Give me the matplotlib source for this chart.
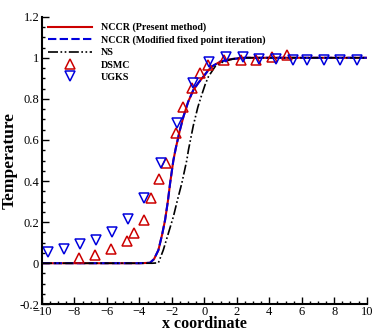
import matplotlib
matplotlib.use("Agg")
import matplotlib.pyplot as plt
from matplotlib.ticker import MultipleLocator

plt.rcParams['font.family'] = ['Liberation Serif', 'DejaVu Serif']

# NCCR (present method) curve
nccr_x = [-10, -4.0, -3.35, -3.1, -2.83, -2.6, -2.42, -2.25, -2.11, -1.91, -1.76, -1.5, -1.29, -1.0, -0.68, -0.35, -0.06, 0.2, 0.45, 0.97, 1.58, 2.5, 10]
nccr_y = [0.0, 0.0, 0.002, 0.02, 0.064, 0.14, 0.21, 0.30, 0.389, 0.50, 0.56, 0.65, 0.713, 0.785, 0.843, 0.88, 0.908, 0.935, 0.957, 0.981, 0.993, 1.0, 1.0]
# NCCR (modified fixed point iteration) - essentially identical
mfp_x = nccr_x
mfp_y = nccr_y
# NS curve
ns_x = [-10, -4.0, -3.2, -2.83, -2.53, -2.2, -1.91, -1.65, -1.39, -1.08, -0.98, -0.68, -0.4, -0.16, 0.05, 0.25, 0.66, 1.17, 1.8, 2.5, 10]
ns_y = [0.0, 0.0, 0.0, 0.002, 0.064, 0.15, 0.226, 0.31, 0.389, 0.502, 0.551, 0.67, 0.76, 0.82, 0.87, 0.908, 0.957, 0.981, 0.995, 1.0, 1.0]
# DSMC
dsmc_x = [-7.72, -6.73, -5.75, -4.78, -4.31, -3.72, -3.28, -2.77, -2.39, -1.74, -1.29, -0.78, -0.27, 0.21, 1.21, 2.24, 3.18, 4.14, 5.10]
dsmc_y = [0.027, 0.038, 0.068, 0.108, 0.149, 0.209, 0.316, 0.408, 0.486, 0.632, 0.759, 0.851, 0.925, 0.965, 0.989, 0.99, 0.99, 1.002, 1.013]
# UGKS
ugks_x = [-9.61, -8.64, -7.66, -6.67, -5.69, -4.70, -3.72, -2.67, -1.70, -0.71, 0.31, 1.34, 2.37, 3.39, 4.42, 5.45, 6.35, 7.34, 8.37, 9.39]
ugks_y = [0.056, 0.07, 0.092, 0.113, 0.153, 0.214, 0.319, 0.486, 0.681, 0.879, 0.981, 1.005, 1.005, 0.995, 0.995, 0.99, 0.99, 0.99, 0.99, 0.99]

xticks = [-10, -8, -6, -4, -2, 0, 2, 4, 6, 8, 10]
yticks = [-0.2, 0, 0.2, 0.4, 0.6, 0.8, 1, 1.2]
ytick_labels = ['-0.2', '0', '0.2', '0.4', '0.6', '0.8', '1', '1.2']

red = '#cc0000'
blue = '#0000dd'

fig = plt.figure(figsize=(3.74, 3.32), dpi=100)
ax = fig.add_axes([0.1123, 0.0834, 0.8682, 0.8663])

ax.plot(nccr_x, nccr_y, color=red, lw=1.5, label='NCCR (Present method)')
ax.plot(mfp_x, mfp_y, color=blue, lw=1.5, ls=(0, (4, 1.6)), label='NCCR (Modified fixed point iteration)')
ax.plot(ns_x, ns_y, color='black', lw=1.2, ls=(0, (6, 1.5, 1, 1.5, 1, 1.5)), label='NS')
ax.plot(dsmc_x, dsmc_y, ls='none', marker='^', ms=7, mfc='none', mec=red, mew=1.1, label='DSMC')
ax.plot(ugks_x, ugks_y, ls='none', marker='v', ms=7, mfc='none', mec=blue, mew=1.1, label='UGKS')

ax.set_xlim(-10, 10)
ax.set_ylim(-0.2, 1.2)
ax.set_xticks(xticks)
ax.set_yticks(yticks)
ax.set_yticklabels(ytick_labels)
ax.xaxis.set_minor_locator(MultipleLocator(0.5))
ax.yaxis.set_minor_locator(MultipleLocator(0.05))
ax.tick_params(which='both', direction='in', top=False, right=False, labelsize=9, width=1)
ax.tick_params(which='major', length=5)
ax.tick_params(axis='y', which='major', pad=2)
ax.tick_params(axis='x', which='major', pad=1.5)
ax.tick_params(which='minor', length=2.5)
for s in ['top', 'right']:
    ax.spines[s].set_visible(False)
for s in ['left', 'bottom']:
    ax.spines[s].set_linewidth(1.5)

ax.set_xlabel('x coordinate', fontsize=11.5, fontweight='bold')
ax.xaxis.label.set_va('bottom')
ax.xaxis.set_label_coords(0.5, -0.0955)
ax.set_ylabel('Temperature', fontsize=12.5, fontweight='bold', labelpad=1)

leg = ax.legend(loc='upper left', bbox_to_anchor=(0.0, 1.0), frameon=False,
                prop={'size': 7.2, 'weight': 'bold'}, handlelength=4.4,
                labelspacing=0.32, borderaxespad=0.2, handletextpad=0.9)

fig.savefig('out.png', dpi=100)
